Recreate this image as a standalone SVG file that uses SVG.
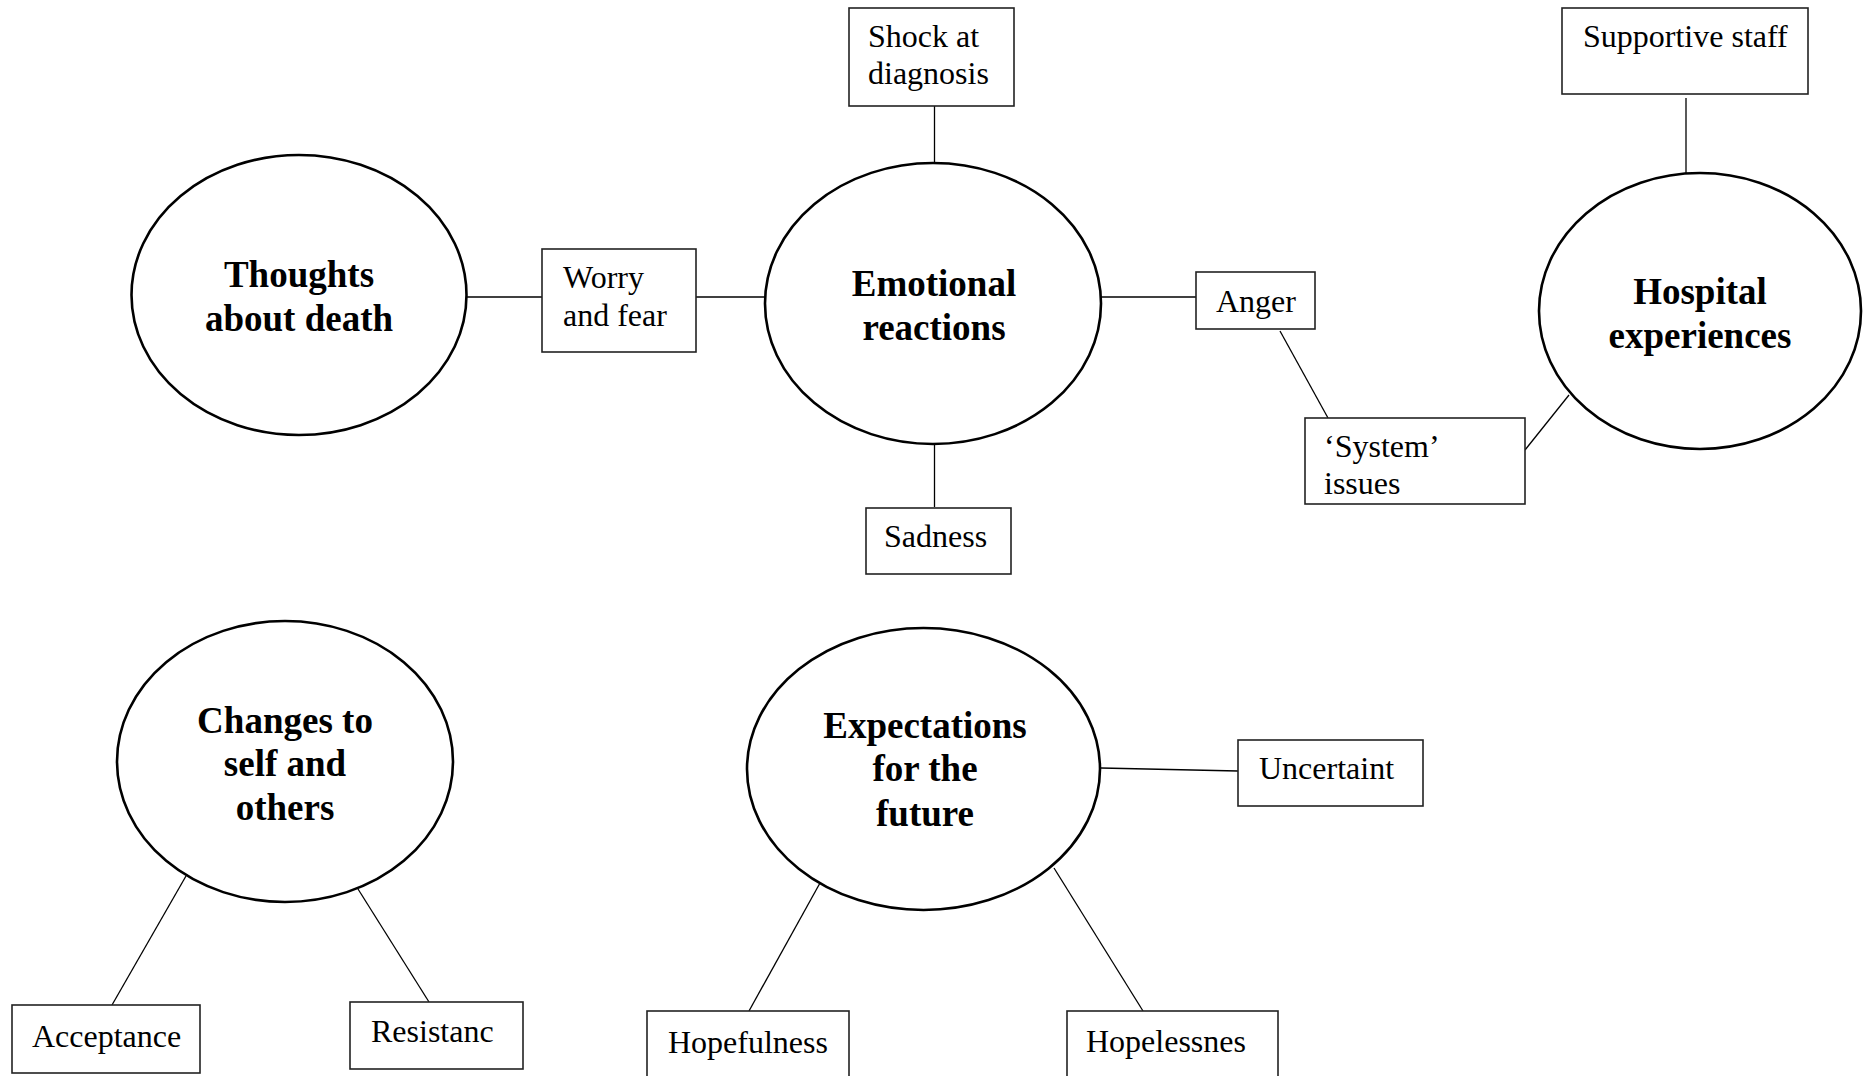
<svg xmlns="http://www.w3.org/2000/svg" width="1869" height="1076" viewBox="0 0 1869 1076">
<style>
.bg{fill:#ffffff}
.ell{fill:#ffffff;stroke:#000;stroke-width:2.6}
.box{fill:#ffffff;stroke:#222;stroke-width:1.6}
.lnk{stroke:#000;stroke-width:1.3;fill:none}
.h{font-family:"Liberation Serif","Times New Roman",serif;font-weight:bold;font-size:37px;fill:#000;text-anchor:middle}
.t{font-family:"Liberation Serif","Times New Roman",serif;font-size:32px;fill:#000}
</style>
<rect class="bg" x="0" y="0" width="1869" height="1076"/>
<g id="connectors">
<line class="lnk" x1="466" y1="297" x2="542" y2="297"/>
<line class="lnk" x1="696" y1="297" x2="765" y2="297"/>
<line class="lnk" x1="934.5" y1="106" x2="934.5" y2="163"/>
<line class="lnk" x1="934.5" y1="444" x2="934.5" y2="507"/>
<line class="lnk" x1="1101" y1="297" x2="1196" y2="297"/>
<line class="lnk" x1="1280" y1="331" x2="1328" y2="418"/>
<line class="lnk" x1="1525" y1="450" x2="1569" y2="395"/>
<line class="lnk" x1="1686" y1="98" x2="1686" y2="173"/>
<line class="lnk" x1="186" y1="876" x2="112" y2="1005"/>
<line class="lnk" x1="358" y1="889" x2="429" y2="1002"/>
<line class="lnk" x1="1101" y1="768" x2="1238" y2="771"/>
<line class="lnk" x1="820" y1="883" x2="749" y2="1011"/>
<line class="lnk" x1="1054" y1="868" x2="1143" y2="1011"/>
</g>
<g id="thoughts">
<ellipse class="ell" cx="299" cy="295" rx="167.5" ry="140"/>
<text class="h" x="299" y="287">Thoughts</text>
<text class="h" x="299" y="331">about death</text>
</g>
<g id="worry">
<rect class="box" x="542" y="249" width="154" height="103"/>
<text class="t" x="563" y="288">Worry</text>
<text class="t" x="563" y="326">and fear</text>
</g>
<g id="emotional">
<ellipse class="ell" cx="933" cy="303.5" rx="168" ry="140.5"/>
<text class="h" x="934" y="296">Emotional</text>
<text class="h" x="934" y="340">reactions</text>
</g>
<g id="shock">
<rect class="box" x="849" y="8" width="165" height="98"/>
<text class="t" x="868" y="47">Shock at</text>
<text class="t" x="868" y="84">diagnosis</text>
</g>
<g id="sadness">
<rect class="box" x="866" y="508" width="145" height="66"/>
<text class="t" x="884" y="547">Sadness</text>
</g>
<g id="anger">
<rect class="box" x="1196" y="272" width="119" height="57"/>
<text class="t" x="1216" y="312">Anger</text>
</g>
<g id="system">
<rect class="box" x="1305" y="418" width="220" height="86"/>
<text class="t" x="1324" y="457">‘System’</text>
<text class="t" x="1324" y="494">issues</text>
</g>
<g id="hospital">
<ellipse class="ell" cx="1700" cy="311" rx="161" ry="138"/>
<text class="h" x="1700" y="304">Hospital</text>
<text class="h" x="1700" y="348">experiences</text>
</g>
<g id="supportive">
<rect class="box" x="1562" y="8" width="246" height="86"/>
<text class="t" x="1583" y="47">Supportive staff</text>
</g>
<g id="changes">
<ellipse class="ell" cx="285" cy="761.5" rx="168" ry="140.5"/>
<text class="h" x="285" y="733">Changes to</text>
<text class="h" x="285" y="776">self and</text>
<text class="h" x="285" y="820">others</text>
</g>
<g id="acceptance">
<rect class="box" x="12" y="1005" width="188" height="68"/>
<text class="t" x="32" y="1047">Acceptance</text>
</g>
<g id="resistance">
<rect class="box" x="350" y="1002" width="173" height="67"/>
<text class="t" x="371" y="1042">Resistanc</text>
</g>
<g id="expectations">
<ellipse class="ell" cx="923.5" cy="769" rx="176.5" ry="141"/>
<text class="h" x="925" y="738">Expectations</text>
<text class="h" x="925" y="781">for the</text>
<text class="h" x="925" y="826">future</text>
</g>
<g id="uncertaint">
<rect class="box" x="1238" y="740" width="185" height="66"/>
<text class="t" x="1259" y="779">Uncertaint</text>
</g>
<g id="hopefulness">
<rect class="box" x="647" y="1011" width="202" height="80"/>
<text class="t" x="668" y="1053">Hopefulness</text>
</g>
<g id="hopelessness">
<rect class="box" x="1067" y="1011" width="211" height="80"/>
<text class="t" x="1086" y="1052">Hopelessnes</text>
</g>
</svg>
